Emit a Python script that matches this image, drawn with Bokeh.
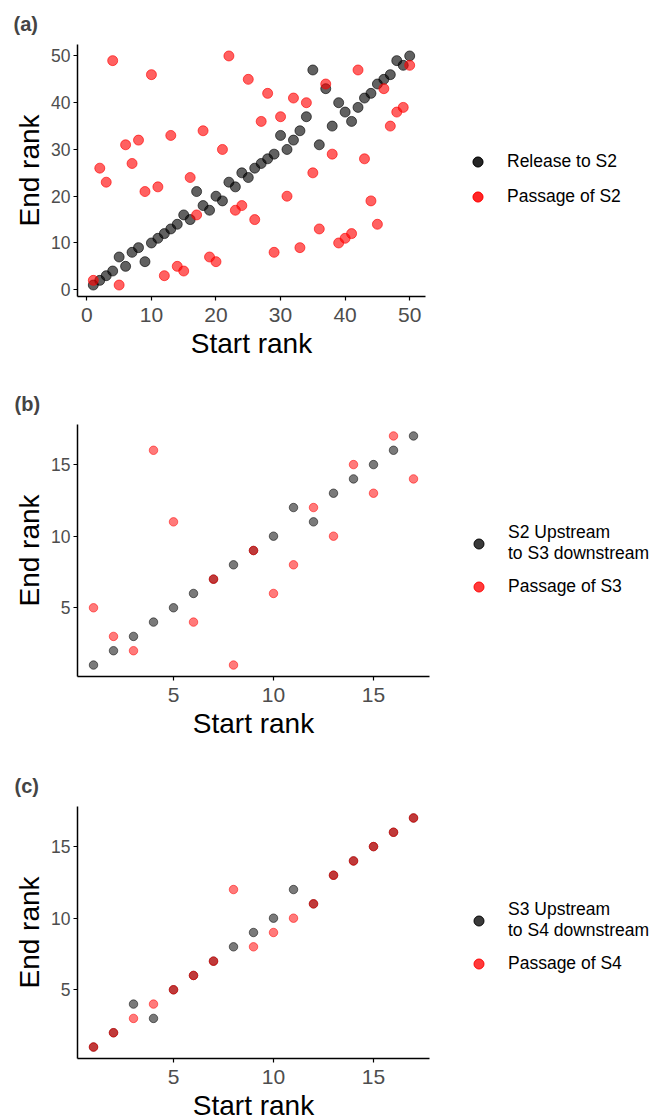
from bokeh.plotting import figure
from bokeh.layouts import column
from bokeh.models import Range1d, FixedTicker, Legend, LegendItem, ColumnDataSource
from bokeh.embed import file_html
from bokeh.resources import INLINE

# ---------------- data ----------------
start_a = list(range(1, 51))
release_to_s2 = [1, 2, 3, 4, 7, 5, 8, 9, 6, 10, 11, 12, 13, 14, 16, 15, 21, 18, 17, 20,
                 19, 23, 22, 25, 24, 26, 27, 28, 29, 33, 30, 32, 34, 37, 47, 31, 43, 35, 40, 38,
                 36, 39, 41, 42, 44, 45, 46, 49, 48, 50]
passage_of_s2 = [2, 26, 23, 49, 1, 31, 27, 32, 21, 46, 22, 3, 33, 5, 4, 24, 16, 34, 7, 6,
                 30, 50, 17, 18, 45, 15, 36, 42, 8, 37, 20, 41, 9, 40, 25, 13, 44, 29, 10, 11,
                 12, 47, 28, 19, 14, 43, 35, 38, 39, 48]

start_b = list(range(1, 18))
s2_up_to_s3_down = [1, 2, 3, 4, 5, 6, 7, 8, 9, 10, 12, 11, 13, 14, 15, 16, 17]
passage_of_s3 = [5, 3, 2, 16, 11, 4, 7, 1, 9, 6, 8, 12, 10, 15, 13, 17, 14]

start_c = list(range(1, 18))
s3_up_to_s4_down = [1, 2, 4, 3, 5, 6, 7, 8, 9, 10, 12, 11, 13, 14, 15, 16, 17]
passage_of_s4 = [1, 2, 3, 4, 5, 6, 7, 12, 8, 9, 10, 11, 13, 14, 15, 16, 17]

ticks_a = [0, 10, 20, 30, 40, 50]
ticks_bc = [5, 10, 15]

labels_a = ["Release to S2", "Passage of S2"]
labels_b = ["S2 Upstream\nto S3 downstream", "Passage of S3"]
labels_c = ["S3 Upstream\nto S4 downstream", "Passage of S4"]

FONT = "Liberation Sans"


def panel(tag, xs, yb, yr, labels, ticks, rng, fw, left, top, bottom,
          pt_size, alpha, leg_loc):
    p = figure(frame_width=fw, frame_height=252,
               min_border_left=left, min_border_right=654 - left - fw,
               min_border_top=top, min_border_bottom=bottom,
               x_range=Range1d(*rng), y_range=Range1d(*rng),
               output_backend="svg", toolbar_location=None, title=tag)
    p.outline_line_color = None
    p.grid.visible = False
    p.background_fill_color = "white"
    p.border_fill_color = "white"

    p.title.text_font = FONT
    p.title.text_font_size = "20px"
    p.title.text_font_style = "bold"
    p.title.align = "left"
    p.title.offset = -(left - 13)
    p.title.standoff = 19

    src = ColumnDataSource(dict(x=xs, yb=yb, yr=yr))
    rb = p.scatter("x", "yb", source=src, size=pt_size, fill_color="black",
                   line_color="black", fill_alpha=alpha, line_alpha=alpha)
    rr = p.scatter("x", "yr", source=src, size=pt_size, fill_color="red",
                   line_color="red", fill_alpha=alpha, line_alpha=alpha)

    for ax in (p.xaxis[0], p.yaxis[0]):
        ax.ticker = FixedTicker(ticks=ticks)
        ax.axis_line_color = "black"
        ax.axis_line_width = 1.5
        ax.major_tick_line_color = "black"
        ax.major_tick_line_width = 1.2
        ax.major_tick_out = 4
        ax.major_tick_in = 0
        ax.minor_tick_line_color = None
        ax.major_label_text_color = "#4D4D4D"
        ax.major_label_text_font = FONT
        ax.axis_label_text_font = FONT
        ax.axis_label_text_font_style = "normal"
        ax.axis_label_text_font_size = "28px"
        ax.axis_label_text_color = "black"
    p.xaxis[0].axis_label = "Start rank"
    p.yaxis[0].axis_label = "End rank"
    p.xaxis[0].major_label_text_font_size = "21px"
    p.yaxis[0].major_label_text_font_size = "17.5px"
    p.xaxis[0].major_label_standoff = 7
    p.yaxis[0].major_label_standoff = 3
    p.xaxis[0].axis_label_standoff = 3
    p.yaxis[0].axis_label_standoff = 3

    # each key is drawn twice so that it looks more opaque, like the reference keys
    legend = Legend(items=[LegendItem(label=labels[0], renderers=[rb, rb]),
                           LegendItem(label=labels[1], renderers=[rr, rr])],
                    location=leg_loc)
    legend.label_text_font = FONT
    legend.label_text_font_size = "17.5px"
    legend.label_text_color = "black"
    legend.label_text_line_height = 1.15
    legend.border_line_color = None
    legend.background_fill_alpha = 0
    legend.margin = 0
    legend.padding = 0
    legend.spacing = 10
    legend.glyph_width = 25
    legend.glyph_height = 25
    legend.label_height = 20
    legend.label_standoff = 17
    p.add_layout(legend, "right")
    return p


pa = panel("(a)", start_a, release_to_s2, passage_of_s2, labels_a, ticks_a,
           (-1.45, 52.45), 348, 77, 44, 85, 10, 0.62, (40, 87))
pb = panel("(b)", start_b, s2_up_to_s3_down, passage_of_s3, labels_b, ticks_bc,
           (0.2, 17.8), 352, 76, 42, 87, 8.5, 0.52, (37, 77))
pc = panel("(c)", start_c, s3_up_to_s4_down, passage_of_s4, labels_c, ticks_bc,
           (0.2, 17.8), 352, 76, 43, 60, 8.5, 0.52, (37, 82))

layout = column(pa, pb, pc, spacing=0)
open("out.html", "w").write(file_html(layout, INLINE))
